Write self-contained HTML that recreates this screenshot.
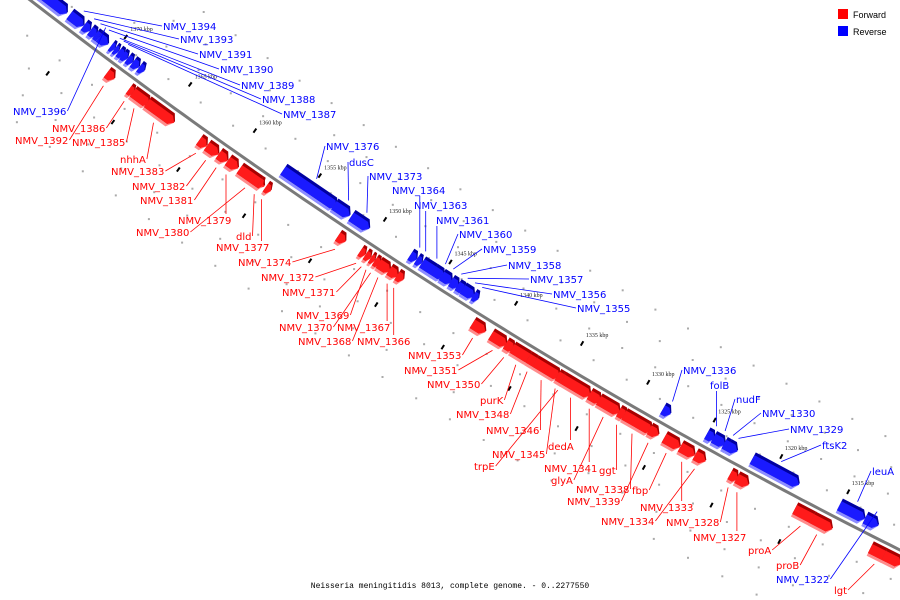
<!DOCTYPE html>
<html><head><meta charset="utf-8">
<style>
html,body{margin:0;padding:0;background:#fff;}
svg{display:block;}
.lbl{font-family:"DejaVu Sans","Liberation Sans",sans-serif;font-size:10px;}
</style></head>
<body>
<svg id="chart" width="900" height="600" viewBox="0 0 900 600" xmlns="http://www.w3.org/2000/svg">
<g id="grid"></g>
<g id="ticks"></g>
<path id="axis" fill="none" stroke="#7a7a7a" stroke-width="3"/>
<g id="genes"></g>
<g id="leaders"></g>
<g id="labels"></g>
<g>
<rect x="838" y="9" width="10" height="10" fill="#f00"/>
<text x="853" y="18" font-family="Liberation Sans,sans-serif" font-size="9">Forward</text>
<rect x="838" y="26" width="10" height="10" fill="#00f"/>
<text x="853" y="35" font-family="Liberation Sans,sans-serif" font-size="9">Reverse</text>
</g>
<text x="450" y="588" text-anchor="middle" font-family="Liberation Mono,monospace" font-size="8">Neisseria meningitidis 8013, complete genome. - 0..2277550</text>
</svg>
<script>
// ---- data (kbp) ----
const geneNames = ["","NMV_1394","NMV_1393","NMV_1391","NMV_1390","NMV_1389","NMV_1388","NMV_1387","","","","",
"NMV_1392","NMV_1386","NMV_1385","nhhA","NMV_1383","NMV_1382","NMV_1381","NMV_1379","NMV_1380","dld","NMV_1377",
"NMV_1376","dusC","NMV_1373","NMV_1364","NMV_1363","NMV_1361","NMV_1360","NMV_1359","NMV_1358","NMV_1357","NMV_1356","NMV_1355",
"NMV_1374","NMV_1372","NMV_1371","NMV_1369","NMV_1370","NMV_1368","NMV_1367","NMV_1366",
"NMV_1353","NMV_1351","NMV_1350","purK","NMV_1348","NMV_1346","NMV_1345","trpE","dedA","NMV_1341","glyA","ggt","NMV_1338","NMV_1339",
"fbp","NMV_1333","NMV_1334","NMV_1328","NMV_1327","proA","proB","lgt","",
"NMV_1336","folB","nudF","NMV_1330","NMV_1329","ftsK2","leuA","NMV_1322","NMV_1396"];
const geneStart = [1377.5,1373.6,1372.5,1372.0,1371.6,1370.4,1370.1,1369.8,1369.5,1369.1,1368.7,1368.2,
1369.6,1367.9,1367.6,1366.5,1362.5,1361.9,1361.0,1360.3,1359.4,1357.9,1357.4,
1357.1,1353.2,1351.9,1347.4,1346.9,1346.5,1345.6,1345.0,1344.3,1343.8,1343.4,1342.6,
1351.9,1350.2,1349.8,1349.4,1349.1,1348.8,1348.0,1347.4,
1341.7,1340.3,1339.2,1338.7,1337.5,1337.0,1335.3,1335.0,1334.9,1332.9,1332.2,1330.7,1330.3,1328.4,
1327.3,1326.1,1325.0,1322.4,1321.9,1317.6,1316.3,1312.0,1311.0,
1328.3,1325.0,1324.5,1323.7,1323.4,1321.6,1315.1,1313.2,1371.4];
const geneEnd = [1373.8,1372.5,1372.0,1371.5,1370.6,1370.1,1369.8,1369.4,1369.1,1368.7,1368.2,1367.8,
1369.0,1367.5,1366.3,1364.4,1361.9,1361.0,1360.3,1359.5,1357.5,1357.6,1357.0,
1353.0,1352.0,1350.5,1346.9,1346.5,1345.2,1344.8,1344.2,1343.7,1343.2,1342.5,1342.2,
1351.3,1349.8,1349.4,1349.1,1348.7,1347.9,1347.3,1346.9,
1340.7,1339.1,1338.5,1337.2,1336.7,1335.1,1334.7,1334.6,1332.8,1332.0,1330.6,1330.1,1328.2,1327.7,
1326.1,1325.0,1324.2,1321.8,1321.0,1315.9,1314.8,1310.6,1309.7,
1327.7,1324.4,1323.6,1323.2,1322.7,1318.1,1313.2,1312.2,1371.3];
const geneStrand = [-1,-1,-1,-1,-1,-1,-1,-1,-1,-1,-1,-1,
1,1,1,1,1,1,1,1,1,1,1,
-1,-1,-1,-1,-1,-1,-1,-1,-1,-1,-1,-1,
1,1,1,1,1,1,1,1,
1,1,1,1,1,1,1,1,1,1,1,1,1,1,
1,1,1,1,1,1,1,1,1,
-1,-1,-1,-1,-1,-1,-1,-1,-1];
const tickKbp = [1375,1370,1365,1360,1355,1350,1345,1340,1335,1330,1325,1320,1315];
const tickLabels = ["1375 kbp","1370 kbp","1365 kbp","1360 kbp","1355 kbp","1350 kbp","1345 kbp","1340 kbp","1335 kbp","1330 kbp","1325 kbp","1320 kbp","1315 kbp"];
// label layout (text placement, not data)
const labelPos = {"NMV_1394":[163,30],"NMV_1393":[180,43],"NMV_1391":[199,58],"NMV_1390":[220,73],"NMV_1389":[241,89],"NMV_1388":[262,103],"NMV_1387":[283,118],"NMV_1396":[13,115],
"NMV_1386":[52,132],"NMV_1392":[15,144],"NMV_1385":[72,146],"nhhA":[120,163],"NMV_1383":[111,175],"NMV_1382":[132,190],"NMV_1381":[140,204],"NMV_1379":[178,224],"NMV_1380":[136,236],"dld":[236,240],"NMV_1377":[216,251],
"NMV_1374":[238,266],"NMV_1372":[261,281],"NMV_1371":[282,296],"NMV_1369":[296,319],"NMV_1370":[279,331],"NMV_1367":[337,331],"NMV_1368":[298,345],"NMV_1366":[357,345],
"NMV_1353":[408,359],"NMV_1351":[404,374],"NMV_1350":[427,388],"purK":[480,404],"NMV_1348":[456,418],"NMV_1346":[486,434],"NMV_1345":[492,458],"trpE":[474,470],"dedA":[548,450],"NMV_1341":[544,472],"ggt":[599,474],"glyA":[551,484],"NMV_1338":[576,493],"fbp":[632,494],"NMV_1339":[567,505],"NMV_1333":[640,511],"NMV_1334":[601,525],"NMV_1328":[666,526],"NMV_1327":[693,541],"proA":[748,554],"proB":[776,569],"lgt":[834,594],
"NMV_1376":[326,150],"dusC":[349,166],"NMV_1373":[369,180],"NMV_1364":[392,194],"NMV_1363":[414,209],"NMV_1361":[436,224],"NMV_1360":[459,238],"NMV_1359":[483,253],"NMV_1358":[508,269],"NMV_1357":[530,283],"NMV_1356":[553,298],"NMV_1355":[577,312],
"NMV_1336":[683,374],"folB":[710,389],"nudF":[736,403],"NMV_1330":[762,417],"NMV_1329":[790,433],"ftsK2":[822,449],"leuA":[872,475],"NMV_1322":[776,583]};

// ---- axis functions ----
const P0=[30,0],P1=[454,328],P2=[900,550];
const K0=1376.1,KSPAN=65.9;
function tOf(k){return (K0-k)/KSPAN;}
function pt(t){const a=(1-t)*(1-t),b=2*t*(1-t),c=t*t;return [a*P0[0]+b*P1[0]+c*P2[0],a*P0[1]+b*P1[1]+c*P2[1]];}
function tan(t){const dx=2*(1-t)*(P1[0]-P0[0])+2*t*(P2[0]-P1[0]);const dy=2*(1-t)*(P1[1]-P0[1])+2*t*(P2[1]-P1[1]);const l=Math.hypot(dx,dy);return [dx/l,dy/l,l];}
function at(k,off){const t=tOf(k);const p=pt(t);const T=tan(t);return [p[0]-T[1]*off,p[1]+T[0]*off];}
const NS="http://www.w3.org/2000/svg";
function mk(tag,attrs,parent){const e=document.createElementNS(NS,tag);for(const k in attrs)e.setAttribute(k,attrs[k]);parent.appendChild(e);return e;}

(function(){let d="";for(let i=-5;i<=105;i++){const t=i/100;const p=pt(t);d+=(i===-5?"M":"L")+p[0].toFixed(1)+" "+p[1].toFixed(1);}document.getElementById('axis').setAttribute('d',d);})();

// grid dots
const gridG=document.getElementById('grid');
[[-95,0],[-70,1.2],[-45,0.6],[-20,1.8],[30,0.4],[55,1.6],[80,0.9],[105,0.2]].forEach(([off,sh])=>{
  for(let k=1382+sh;k>1300;k-=2.5){const p=at(k,off);if(p[0]<0||p[0]>900||p[1]<0||p[1]>600)continue;
    const r=mk('rect',{x:(p[0]-1).toFixed(1),y:(p[1]-1).toFixed(1),width:2,height:2,fill:'#aaa'},gridG);
    
    }
});

// ticks
const tickG=document.getElementById('ticks');
tickKbp.forEach((k,i)=>{
  const a=at(k,-26),b=at(k,-31);
  const l=mk('line',{x1:a[0],y1:a[1],x2:b[0],y2:b[1],stroke:'#000','stroke-width':2},tickG);
  
  
  const c=at(k+2.5,45),d=at(k+2.5,50);
  const l2=mk('line',{x1:c[0],y1:c[1],x2:d[0],y2:d[1],stroke:'#000','stroke-width':2},tickG);
  
  
  const p=at(k,-36);
  const tx=mk('text',{x:p[0].toFixed(1),y:p[1].toFixed(1),'font-family':'Liberation Serif,serif','font-size':6,fill:'#222'},tickG);
  tx.textContent=tickLabels[i];
  
  
});

// genes
const geneG=document.getElementById('genes');
function poly(L,v0,v1,a){const h=L/2;return [[-h,v0],[h-a,v0],[h,(v0+v1)/2],[h-a,v1],[-h,v1]].map(p=>p[0].toFixed(1)+","+p[1].toFixed(1)).join(" ");}
const geneAnchor=[];
geneStart.forEach((s,i)=>{
  const e=geneEnd[i];const km=(s+e)/2;const t=tOf(km);const p=pt(t);const T=tan(t);
  const L=Math.abs(tOf(e)-tOf(s))*T[2];const ang=Math.atan2(T[1],T[0])*180/Math.PI;
  const a=Math.min(5,L*0.45);
  const g=mk('g',{transform:`translate(${p[0].toFixed(1)},${p[1].toFixed(1)}) rotate(${ang.toFixed(2)})`},geneG);
  
  
  if(geneStrand[i]>0){
    mk('polygon',{points:poly(L,4,20,a),fill:'#ff8c8c'},g);
    mk('polygon',{points:poly(L,4,17,a),fill:'#a80000'},g);
    mk('polygon',{points:poly(L,7,17,a),fill:'#ff1a1a'},g);
  }else if(L>0.5){
    mk('polygon',{points:poly(L,-20,-4,a),fill:'#8c8cff'},g);
    mk('polygon',{points:poly(L,-20,-7,a),fill:'#0000a0'},g);
    mk('polygon',{points:poly(L,-17,-7,a),fill:'#1a1aff'},g);
  }
  geneAnchor.push(at(km,geneStrand[i]>0?24:(L>0.5?-24:40)));
});

// labels + leaders
const labG=document.getElementById('labels'),ldG=document.getElementById('leaders');
geneNames.forEach((n,i)=>{
  if(!n||!labelPos[n])return;
  const pos=labelPos[n];const col=geneStrand[i]>0?'#f00':'#00f';
  const tx=mk('text',{x:pos[0],y:pos[1],fill:col,class:'lbl'},labG);
  tx.textContent=n;
  
  
  const w=tx.getComputedTextLength();const g=geneAnchor[i];
  let sx,sy;
  if(g[0]>pos[0]+w){sx=pos[0]+w+1;sy=pos[1]-4;}
  else if(g[0]<pos[0]){sx=pos[0]-1;sy=pos[1]-4;}
  else{sx=g[0];sy=g[1]<pos[1]?pos[1]-10:pos[1]+2;}
  const l=mk('line',{x1:sx.toFixed(1),y1:sy.toFixed(1),x2:g[0].toFixed(1),y2:g[1].toFixed(1),stroke:col,'stroke-width':0.8},ldG);
  
  
});
</script>
</body></html>
